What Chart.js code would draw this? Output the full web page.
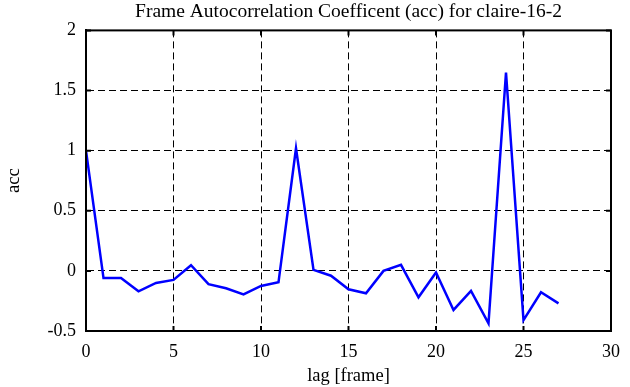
<!DOCTYPE html>
<html>
<head>
<meta charset="utf-8">
<script src="https://cdn.jsdelivr.net/npm/chart.js@4"></script>
<style>
  html, body { margin: 0; padding: 0; background: #fff; }
  #wrap { width: 630px; height: 387px; }
</style>
</head>
<body>
<div id="wrap"><canvas id="acc-chart"></canvas></div>
<script>
// Frame autocorrelation values
const lags = [0, 1, 2, 3, 4, 5, 6, 7, 8, 9, 10, 11, 12, 13, 14, 15, 16, 17, 18, 19, 20, 21, 22, 23, 24, 25, 26, 27];
const acc = [1.0, -0.06, -0.06, -0.17, -0.10, -0.075, 0.047, -0.11, -0.145, -0.195, -0.125, -0.095, 1.02, 0.008, -0.04, -0.153, -0.186, 0.0, 0.05, -0.22, -0.014, -0.325, -0.167, -0.436, 1.65, -0.41, -0.178, -0.27];
const xTicks = [0, 5, 10, 15, 20, 25, 30];
const yTicks = [-0.5, 0, 0.5, 1, 1.5, 2];

const serif = 'Liberation Serif, Times New Roman, serif';

// closed black frame with short inward tick marks on all four sides
const frameBox = {
    id: 'frameBox',
    afterDraw(chart) {
        const { ctx, chartArea: a, scales } = chart;
        ctx.save();
        ctx.strokeStyle = '#000';
        ctx.lineWidth = 2;
        ctx.strokeRect(a.left, a.top, a.right - a.left, a.bottom - a.top);
        ctx.beginPath();
        xTicks.forEach(v => {
            const px = scales.x.getPixelForValue(v);
            ctx.moveTo(px, a.bottom); ctx.lineTo(px, a.bottom - 5);
            ctx.moveTo(px, a.top); ctx.lineTo(px, a.top + 5);
        });
        yTicks.forEach(v => {
            const py = scales.y.getPixelForValue(v);
            ctx.moveTo(a.left, py); ctx.lineTo(a.left + 5, py);
            ctx.moveTo(a.right, py); ctx.lineTo(a.right - 5, py);
        });
        ctx.stroke();
        ctx.restore();
    }
};

const ctx = document.getElementById('acc-chart').getContext('2d');
new Chart(ctx, {
    type: 'line',
    data: {
        datasets: [{
            label: 'acc',
            data: lags.map((l, i) => ({ x: l, y: acc[i] })),
            borderColor: '#0000ff',
            borderWidth: 2.5,
            pointRadius: 0,
            tension: 0,
            fill: false
        }]
    },
    options: {
        responsive: true,
        maintainAspectRatio: false,
        animation: false,
        layout: { padding: { top: 0, right: 17, bottom: 0, left: 0 } },
        plugins: {
            legend: { display: false },
            tooltip: { enabled: false },
            title: {
                display: true,
                fullSize: false,
                text: 'Frame Autocorrelation Coefficent (acc) for claire-16-2',
                color: '#000',
                font: { family: serif, size: 19.5, weight: 'normal' },
                padding: { top: 0, bottom: 7 }
            }
        },
        scales: {
            x: {
                type: 'linear',
                min: 0,
                max: 30,
                afterBuildTicks: (s) => { s.ticks = xTicks.map(v => ({ value: v })); },
                afterFit: (s) => { s.height = 56; },
                grid: {
                    color: '#000',
                    lineWidth: 1,
                    drawTicks: false,
                },
                border: { display: true, color: '#000', width: 2, dash: [7, 4] },
                ticks: { color: '#000', font: { family: serif, size: 18 }, padding: 10 },
                title: {
                    display: true,
                    text: 'lag [frame]',
                    color: '#000',
                    font: { family: serif, size: 18.5 },
                    padding: { top: 4, bottom: 0 }
                }
            },
            y: {
                min: -0.5,
                max: 2,
                afterBuildTicks: (s) => { s.ticks = yTicks.map(v => ({ value: v })); },
                afterFit: (s) => { s.width = 86; },
                grid: {
                    color: '#000',
                    lineWidth: 1,
                    drawTicks: false,
                },
                border: { display: true, color: '#000', width: 2, dash: [7, 4] },
                ticks: {
                    color: '#000',
                    font: { family: serif, size: 18 },
                    padding: 10,
                    callback: (v) => String(v)
                },
                title: {
                    display: true,
                    text: 'acc',
                    color: '#000',
                    font: { family: serif, size: 18.5 },
                    padding: { top: 3, bottom: 16 }
                }
            }
        }
    },
    plugins: [frameBox]
});
</script>
</body>
</html>
